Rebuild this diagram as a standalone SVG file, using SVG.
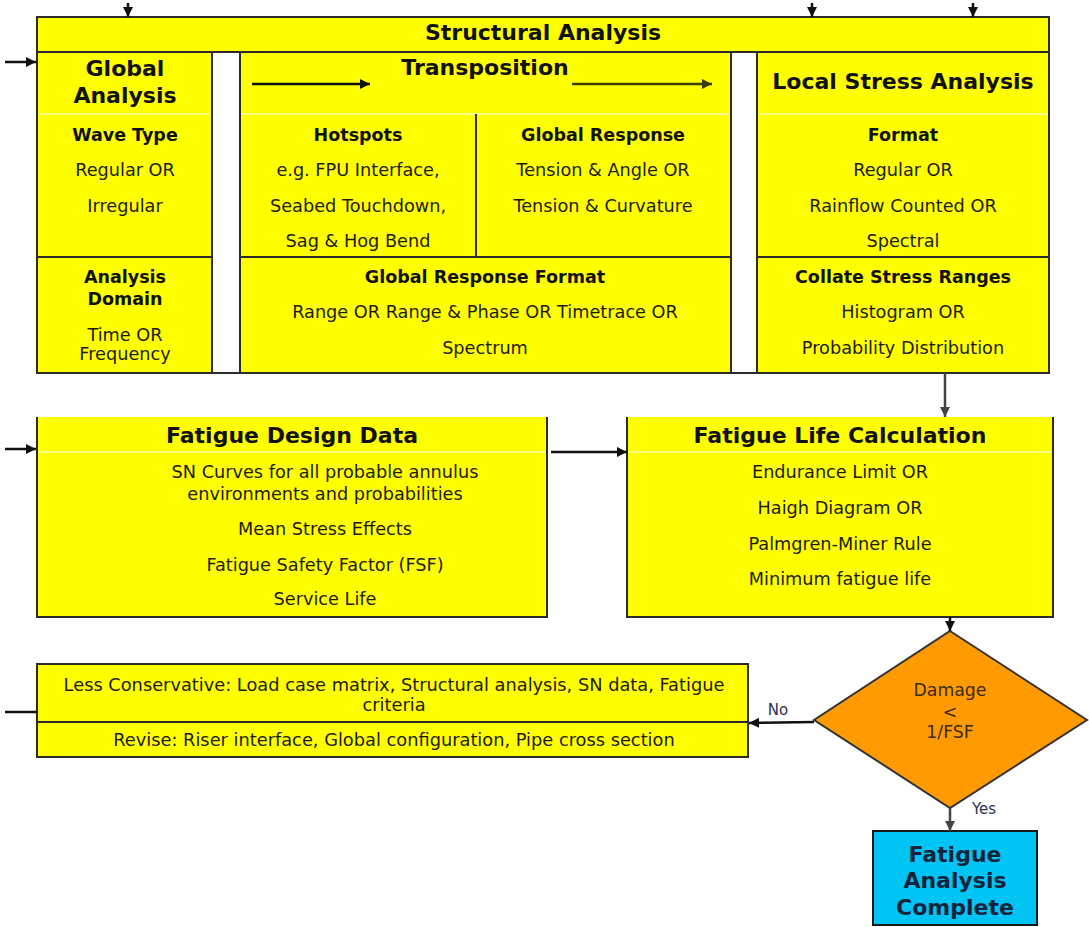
<svg xmlns="http://www.w3.org/2000/svg" width="1089" height="927" viewBox="0 0 1089 927">
<style>
text{font-family:"DejaVu Sans","Verdana","Liberation Sans",sans-serif;text-anchor:middle;fill:#1c1c00}
.t{font-size:22px;font-weight:bold;fill:#111}
.h{font-size:17.5px;font-weight:bold;fill:#111}
.b{font-size:17.7px}
.d{font-size:17.3px;fill:#3a2a10}
.s{font-size:17.8px}
.box{fill:#ffff00;stroke:#2b2b2b;stroke-width:2}
.yl{fill:#ffff00}
.ln{fill:none;stroke:#2b2b2b;stroke-width:2}
.faint{stroke:#ffffb0;stroke-width:1.5}
.wh{fill:#ffffff;stroke:#2b2b2b;stroke-width:2}
.c{fill:none;stroke:#111;stroke-width:2.5}
.cg{fill:none;stroke:#444;stroke-width:2.5}
</style>
<defs>
<marker id="ah" markerUnits="userSpaceOnUse" markerWidth="11" markerHeight="11" refX="10" refY="5" orient="auto"><path d="M0,0 L10,5 L0,10 z" fill="#111"/></marker>
<marker id="ahg" markerUnits="userSpaceOnUse" markerWidth="11" markerHeight="11" refX="10" refY="5" orient="auto"><path d="M0,0 L10,5 L0,10 z" fill="#444"/></marker>
<marker id="aho" markerUnits="userSpaceOnUse" markerWidth="11" markerHeight="11" refX="10" refY="5" orient="auto"><path d="M0,0 L10,5 L0,10 z" fill="#3d3d00"/></marker>
</defs>

<g id="structural-analysis">
<rect class="box" x="37" y="17" width="1012" height="356"/>
<line class="ln" x1="37" y1="52" x2="1049" y2="52"/>
<rect class="wh" x="212" y="52" width="28" height="321"/>
<rect class="wh" x="731" y="52" width="26" height="321"/>
<text class="t" x="543" y="40">Structural Analysis</text>
</g>

<g id="global-analysis">
<line class="faint" x1="39" y1="114" x2="210" y2="114"/>
<line class="ln" x1="37" y1="257" x2="212" y2="257"/>
<text class="t" x="125" y="76">Global</text>
<text class="t" x="125" y="103">Analysis</text>
<text class="h" x="125" y="141">Wave Type</text>
<text class="b" x="125" y="176">Regular OR</text>
<text class="b" x="125" y="212">Irregular</text>
<text class="h" x="125" y="283">Analysis</text>
<text class="h" x="125" y="305">Domain</text>
<text class="b" x="125" y="341">Time OR</text>
<text class="b" x="125" y="360">Frequency</text>
</g>

<g id="transposition">
<line class="faint" x1="242" y1="114" x2="729" y2="114"/>
<line class="ln" x1="476" y1="114" x2="476" y2="257"/>
<line class="ln" x1="240" y1="257" x2="731" y2="257"/>
<text class="t" x="485" y="75">Transposition</text>
<text class="h" x="358" y="141">Hotspots</text>
<text class="b" x="358" y="176">e.g. FPU Interface,</text>
<text class="b" x="358" y="212">Seabed Touchdown,</text>
<text class="b" x="358" y="247">Sag &amp; Hog Bend</text>
<text class="h" x="603" y="141">Global Response</text>
<text class="b" x="603" y="176">Tension &amp; Angle OR</text>
<text class="b" x="603" y="212">Tension &amp; Curvature</text>
<text class="h" x="485" y="283">Global Response Format</text>
<text class="b" x="485" y="318">Range OR Range &amp; Phase OR Timetrace OR</text>
<text class="b" x="485" y="354">Spectrum</text>
</g>

<g id="local-stress-analysis">
<line class="faint" x1="759" y1="114" x2="1047" y2="114"/>
<line class="ln" x1="757" y1="257" x2="1049" y2="257"/>
<text class="t" x="903" y="89">Local Stress Analysis</text>
<text class="h" x="903" y="141">Format</text>
<text class="b" x="903" y="176">Regular OR</text>
<text class="b" x="903" y="212">Rainflow Counted OR</text>
<text class="b" x="903" y="247">Spectral</text>
<text class="h" x="903" y="283">Collate Stress Ranges</text>
<text class="b" x="903" y="318">Histogram OR</text>
<text class="b" x="903" y="354">Probability Distribution</text>
</g>

<g id="fatigue-design-data">
<rect class="yl" x="37" y="417" width="510" height="200"/>
<path class="ln" d="M37,417 V617 H547 V417"/>
<line class="faint" x1="39" y1="452" x2="545" y2="452"/>
<text class="t" x="292" y="443">Fatigue Design Data</text>
<text class="b" x="325" y="478">SN Curves for all probable annulus</text>
<text class="b" x="325" y="500">environments and probabilities</text>
<text class="b" x="325" y="535">Mean Stress Effects</text>
<text class="b" x="325" y="571">Fatigue Safety Factor (FSF)</text>
<text class="b" x="325" y="605">Service Life</text>
</g>

<g id="fatigue-life-calculation">
<rect class="yl" x="627" y="417" width="426" height="200"/>
<path class="ln" d="M627,417 V617 H1053 V417"/>
<line class="faint" x1="629" y1="452" x2="1051" y2="452"/>
<text class="t" x="840" y="443">Fatigue Life Calculation</text>
<text class="b" x="840" y="478">Endurance Limit OR</text>
<text class="b" x="840" y="514">Haigh Diagram OR</text>
<text class="b" x="840" y="550">Palmgren-Miner Rule</text>
<text class="b" x="840" y="585">Minimum fatigue life</text>
</g>

<g id="revise">
<rect class="box" x="37" y="664" width="711" height="93"/>
<line class="ln" x1="37" y1="722" x2="748" y2="722"/>
<text class="s" x="394" y="691">Less Conservative: Load case matrix, Structural analysis, SN data, Fatigue</text>
<text class="s" x="394" y="711">criteria</text>
<text class="s" x="394" y="746">Revise: Riser interface, Global configuration, Pipe cross section</text>
</g>

<g id="decision">
<polygon points="950,631 1087,720 950,808 814,720" fill="#ff9a00" stroke="#333" stroke-width="2"/>
<text class="d" x="950" y="696">Damage</text>
<text class="d" x="950" y="718">&lt;</text>
<text class="d" x="950" y="738">1/FSF</text>
</g>

<g id="complete">
<rect x="873" y="831" width="164" height="94" fill="#00c4f4" stroke="#1a1a1a" stroke-width="2"/>
<text class="t" x="955" y="862" style="fill:#14233a">Fatigue</text>
<text class="t" x="955" y="888" style="fill:#14233a">Analysis</text>
<text class="t" x="955" y="915" style="fill:#14233a">Complete</text>
</g>

<g id="connectors">
<line class="c" x1="128" y1="3" x2="128" y2="17" marker-end="url(#ah)"/>
<line class="c" x1="812" y1="3" x2="812" y2="17" marker-end="url(#ah)"/>
<line class="c" x1="973" y1="3" x2="973" y2="17" marker-end="url(#ah)"/>
<line class="c" x1="5" y1="62" x2="36" y2="62" marker-end="url(#ah)"/>
<line class="c" x1="252" y1="84" x2="370" y2="84" marker-end="url(#ah)"/>
<line x1="572" y1="84" x2="712" y2="84" stroke="#3d3d00" stroke-width="2.5" marker-end="url(#aho)"/>
<line class="cg" x1="945" y1="373" x2="945" y2="417" marker-end="url(#ahg)"/>
<line class="c" x1="5" y1="449" x2="36" y2="449" marker-end="url(#ah)"/>
<line class="c" x1="551" y1="452" x2="627" y2="452" marker-end="url(#ah)"/>
<line class="c" x1="950" y1="617" x2="950" y2="631" marker-end="url(#ah)"/>
<line class="c" x1="814" y1="722" x2="749" y2="723" marker-end="url(#ah)"/>
<line class="c" x1="5" y1="712" x2="37" y2="712"/>
<line class="cg" x1="950" y1="808" x2="950" y2="831" marker-end="url(#ahg)"/>
<text x="778" y="715" style="font-size:15px;fill:#2a3350">No</text>
<text x="984" y="814" style="font-size:15px;fill:#2a3350">Yes</text>
</g>
</svg>
